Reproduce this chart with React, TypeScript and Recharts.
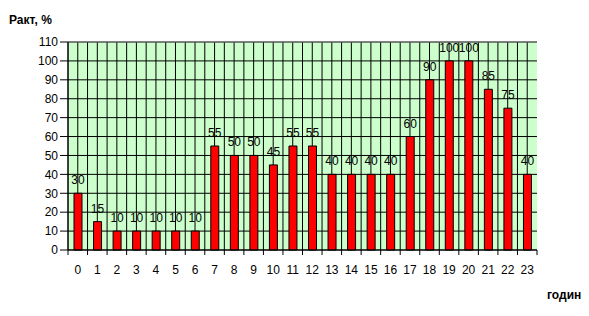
import React from 'react';
import { BarChart, Bar, XAxis, YAxis, CartesianGrid, LabelList, ReferenceLine, Customized } from 'recharts';

const hours = ['0','1','2','3','4','5','6','7','8','9','10','11','12','13','14','15','16','17','18','19','20','21','22','23'];
const values = [30, 15, 10, 10, 10, 10, 10, 55, 50, 50, 45, 55, 55, 40, 40, 40, 40, 60, 90, 100, 100, 85, 75, 40];
const yTicks = [0, 10, 20, 30, 40, 50, 60, 70, 80, 90, 100, 110];
const yTitle = 'Ракт, %';
const xTitle = 'годин';

const data = hours.map((h, i) => ({ hour: h, value: values[i] }));

const FONT = '"Liberation Sans", Arial, sans-serif';
const W = 589;
const H = 316;

const XTick = (props: any) => {
  const { x, y, payload, index } = props;
  const half = payload && typeof payload.offset === 'number' && payload.offset > 0 ? payload.offset : 469 / 48;
  const axisY = y - 15;
  return (
    <g>
      <line x1={x - half} x2={x - half} y1={axisY} y2={axisY + 5} stroke="#000" />
      {index === hours.length - 1 && (
        <line x1={x + half} x2={x + half} y1={axisY} y2={axisY + 5} stroke="#000" />
      )}
      <text x={x} y={y} dy="0.71em" textAnchor="middle" fontSize={12} fontFamily={FONT} fill="#000">
        {payload.value}
      </text>
    </g>
  );
};

const verticalGen = (args: any) => {
  const off = args.offset;
  const n = hours.length * 2;
  const pts: number[] = [];
  for (let i = 0; i < n; i++) pts.push(off.left + (i * off.width) / n);
  return pts;
};

const Frame = () => (
  <g>
    <path
      d={`M5.5,5.5 L${W - 4.5},5.5 L${W - 4.5},${H - 3.5} L5.5,${H - 3.5} Z`}
      fill="none"
      stroke="#000000"
      strokeWidth={1}
    />
    <text x={9} y={24} fontSize={12} fontWeight="bold" fontFamily={FONT} fill="#000">
      {yTitle}
    </text>
    <text x={547} y={299} fontSize={12} fontWeight="bold" fontFamily={FONT} fill="#000">
      {xTitle}
    </text>
  </g>
);

export default function App() {
  return (
    <div style={{ position: 'relative', margin: -8, width: W, height: H, background: '#fff' }}>
      <BarChart
        width={W}
        height={H}
        data={data}
        margin={{ top: 42, right: 52, bottom: 26, left: 8 }}
        barCategoryGap={0}
        style={{ overflow: 'visible' }}
      >
        <CartesianGrid
          fill="#CCFFCC"
          stroke="#000"
          strokeOpacity={1}
          verticalCoordinatesGenerator={verticalGen}
        />
        <XAxis
          dataKey="hour"
          height={40}
          tickLine={false}
          tickSize={5}
          tickMargin={10}
          axisLine={{ stroke: '#000' }}
          tick={<XTick />}
          interval={0}
        />
        <YAxis
          width={60}
          domain={[0, 110]}
          ticks={yTicks}
          interval={0}
          tickSize={8}
          tickMargin={2}
          axisLine={{ stroke: '#000' }}
          tickLine={{ stroke: '#000' }}
          tick={{ fontSize: 12, fontFamily: FONT, fill: '#000' }}
        />
        <YAxis
          yAxisId="right"
          orientation="right"
          width={0}
          domain={[0, 110]}
          tick={false}
          tickLine={false}
          axisLine={{ stroke: '#808080' }}
        />
        <ReferenceLine y={110} stroke="#808080" strokeWidth={1} />
        <Bar dataKey="value" fill="#FF0000" stroke="#000" strokeWidth={1} barSize={8} isAnimationActive={false}>
          <LabelList dataKey="value" position="top" offset={9} fontSize={12} fontFamily={FONT} fill="#000" />
        </Bar>
        <Customized component={<Frame />} />
      </BarChart>
    </div>
  );
}
